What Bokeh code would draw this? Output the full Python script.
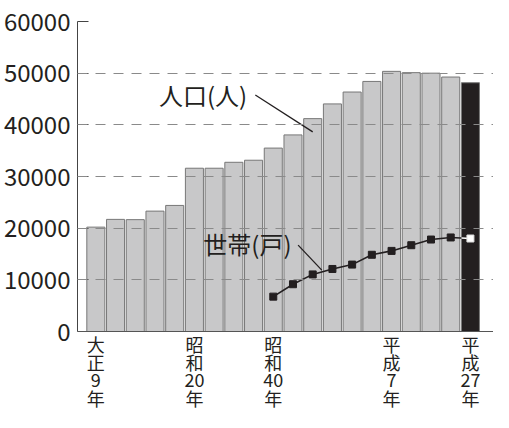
from bokeh.plotting import figure
from bokeh.models import Range1d, FixedTicker, ColumnDataSource, Span
from bokeh.core.properties import value
from bokeh.embed import file_html
from bokeh.resources import INLINE

# ---- data ----
years = [1920, 1925, 1930, 1935, 1940, 1945, 1950, 1955, 1960, 1965,
         1970, 1975, 1980, 1985, 1990, 1995, 2000, 2005, 2010, 2015]
population = [20200, 21700, 21650, 23300, 24400, 31600, 31600, 32750, 33150, 35500,
              38050, 41200, 44050, 46350, 48400, 50350, 50100, 50000, 49250, 48150]
hh_years = [1965, 1970, 1975, 1980, 1985, 1990, 1995, 2000, 2005, 2010, 2015]
households = [6750, 9150, 11050, 12100, 12950, 14850, 15600, 16700, 17800, 18200, 18000]
tick_years = [1920, 1945, 1965, 1995, 2015]
tick_texts = ["大\n正\n9\n年", "昭\n和\n20\n年", "昭\n和\n40\n年", "平\n成\n7\n年", "平\n成\n27\n年"]
y_ticks = [0, 10000, 20000, 30000, 40000, 50000, 60000]
grid_ticks = [10000, 20000, 30000, 40000, 50000]
pop_label = "人口(人)"
hh_label = "世帯(戸)"

FONT = "Noto Sans CJK JP"
TXT = "#231f20"

H, TOP = 412, 21
ZERO_PX = 331                     # pixel row of the value 0
per_px = 60000 / (ZERO_PX - TOP)  # data units per pixel
y_bottom = -(H - ZERO_PX) * per_px
LINE_PX, GAP_PX = 18, 3           # vertical label line pitch and gap under the axis

idx = list(range(len(years)))
hh_idx = [years.index(y) for y in hh_years]
colors = ["#c8c8c9"] * (len(years) - 1) + ["#231f20"]

p = figure(width=493, height=H, output_backend="svg", toolbar_location=None,
           x_range=Range1d(-0.93, 20.17), y_range=Range1d(y_bottom, 60000),
           min_border_left=71, min_border_right=0, min_border_top=TOP, min_border_bottom=0)
p.outline_line_color = None
p.xaxis.visible = False
p.xgrid.visible = False
p.ygrid.ticker = FixedTicker(ticks=grid_ticks)
p.ygrid.grid_line_color = "#8a8a8a"
p.ygrid.grid_line_dash = "10 8"
p.ygrid.grid_line_width = 1
p.ygrid.level = "overlay"

src = ColumnDataSource(dict(x=idx, top=population, color=colors))
p.vbar(x="x", top="top", bottom=0, width=0.915, source=src, fill_color="color",
       line_color="#777777", line_width=1)

p.line(hh_idx, households, line_color="#231f20", line_width=1.6)
p.scatter(hh_idx[:-1], households[:-1], marker="square", size=7,
          fill_color="#231f20", line_color="#231f20")
# white segment over dark bar
x_edge = hh_idx[-1] - 0.915 / 2
t = (x_edge - hh_idx[-2]) / (hh_idx[-1] - hh_idx[-2])
y_edge = households[-2] + t * (households[-1] - households[-2])
p.segment(x0=[x_edge], y0=[y_edge], x1=[hh_idx[-1]], y1=[households[-1]],
          line_color="white", line_width=1.6)
p.scatter([hh_idx[-1]], [households[-1]], marker="square", size=7,
          fill_color="white", line_color="#dddddd")

# x axis line at 0
p.add_layout(Span(location=0, dimension="width", line_color="#555555", line_width=1.2))

# annotations
p.text(x=[3.2], y=[45900], text=[pop_label], text_font=value(FONT),
       text_font_size="24px", text_color=TXT, text_align="left", text_baseline="middle")
p.line([8.09, 11.0], [45780, 38640], line_color="#231f20", line_width=1.3)
p.text(x=[5.45], y=[16950], text=[hh_label], text_font=value(FONT),
       text_font_size="24px", text_color=TXT, text_align="left", text_baseline="middle")
p.line([10.26, 11.46], [16720, 11870], line_color="#231f20", line_width=1.3)

# vertical category labels below 0, one text per line
lx, ly, lt = [], [], []
for yr, s in zip(tick_years, tick_texts):
    for k, part in enumerate(s.split("\n")):
        lx.append(years.index(yr))
        ly.append(-(GAP_PX + LINE_PX / 2 + LINE_PX * k) * per_px)
        lt.append(part)
p.text(x=lx, y=ly, text=lt, text_font=value(FONT), text_font_size="18px",
       text_color=TXT, text_align="center", text_baseline="middle")

p.yaxis.ticker = FixedTicker(ticks=y_ticks)
p.yaxis.bounds = (0, 60000)
p.yaxis.major_tick_in = 11
p.yaxis.major_tick_out = 0
p.yaxis.major_tick_line_color = "#444444"
p.yaxis.minor_tick_line_color = None
p.yaxis.axis_line_color = "#444444"
p.yaxis.major_label_text_font = FONT
p.yaxis.major_label_text_font_size = "24px"
p.yaxis.major_label_text_color = TXT
p.yaxis.major_label_standoff = 7

open("out.html", "w").write(file_html(p, INLINE))
